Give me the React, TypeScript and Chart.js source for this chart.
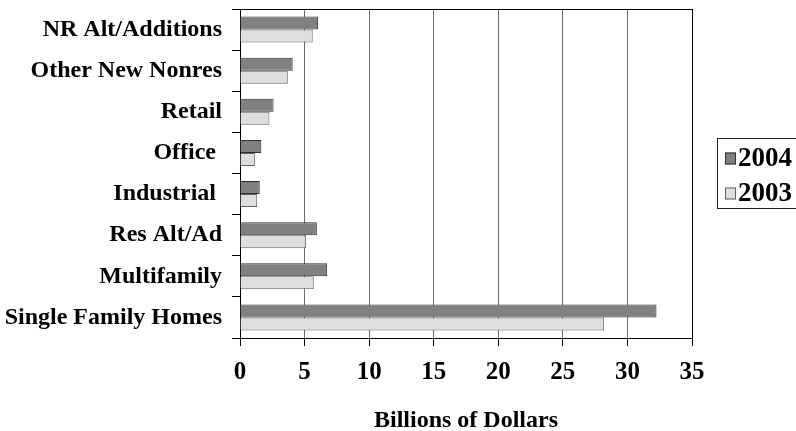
import React, { useEffect, useRef } from "react";
import { Chart, registerables } from "chart.js";

Chart.register(...registerables);

const categories = [
  "NR Alt/Additions",
  "Other New Nonres",
  "Retail",
  "Office ",
  "Industrial ",
  "Res Alt/Ad",
  "Multifamily",
  "Single Family Homes",
];
const series2004 = [6.05, 4.08, 2.6, 1.65, 1.53, 5.95, 6.75, 32.25];
const series2003 = [5.63, 3.7, 2.28, 1.15, 1.33, 5.12, 5.71, 28.2];
const seriesNames = ["2004", "2003"];
const xTicks = [0, 5, 10, 15, 20, 25, 30, 35];
const axisTitle = "Billions of Dollars";

const FONT = "'Liberation Serif', 'Times New Roman', serif";
const FILL = ["#808080", "#dedede"];
const EDGE = ["#303030", "#606060"];

const frameAndLegend = {
  id: "frameAndLegend",
  afterDatasetsDraw(chart: any) {
    const { ctx, chartArea } = chart;
    ctx.save();
    ctx.strokeStyle = "#000";
    ctx.lineWidth = 1;
    ctx.beginPath();
    ctx.moveTo(chartArea.left, Math.round(chartArea.top) + 0.5);
    ctx.lineTo(chartArea.right + 0.5, Math.round(chartArea.top) + 0.5);
    ctx.moveTo(Math.round(chartArea.right) + 0.5, chartArea.top);
    ctx.lineTo(Math.round(chartArea.right) + 0.5, chartArea.bottom);
    ctx.stroke();
    ctx.restore();
  },
  afterDraw(chart: any) {
    const { ctx } = chart;
    ctx.save();
    ctx.strokeStyle = "#222";
    ctx.lineWidth = 1;
    ctx.strokeRect(717.5, 138.5, 120, 70);
    const rows = [158.5, 193.5];
    chart.data.datasets.forEach((ds: any, i: number) => {
      const cy = rows[i];
      ctx.fillStyle = ds.backgroundColor;
      ctx.fillRect(725, cy - 6, 11, 12);
      ctx.strokeStyle = ds.borderColor;
      ctx.strokeRect(725.5, cy - 5.5, 10, 11);
      ctx.fillStyle = "#000";
      ctx.font = `bold 27px ${FONT}`;
      ctx.textAlign = "left";
      ctx.textBaseline = "middle";
      ctx.fillText(ds.label, 738, cy + 1);
    });
    ctx.restore();
  },
};

export default function App() {
  const ref = useRef<HTMLCanvasElement | null>(null);
  useEffect(() => {
    if (!ref.current) return;
    const chart = new Chart(ref.current, {
      type: "bar",
      data: {
        labels: categories,
        datasets: [
          {
            label: seriesNames[0],
            data: series2004,
            backgroundColor: FILL[0],
            borderColor: EDGE[0],
            borderWidth: 1,
          },
          {
            label: seriesNames[1],
            data: series2003,
            backgroundColor: FILL[1],
            borderColor: EDGE[1],
            borderWidth: 1,
          },
        ],
      },
      options: {
        indexAxis: "y",
        animation: false,
        responsive: false,
        maintainAspectRatio: false,
        categoryPercentage: 0.63,
        barPercentage: 1,
        layout: { padding: { top: 9, right: 104, left: 0, bottom: 0 } },
        plugins: {
          legend: { display: false },
          tooltip: { enabled: false },
        },
        scales: {
          x: {
            type: "linear",
            min: 0,
            max: 35,
            afterBuildTicks: (scale: any) => {
              scale.ticks = xTicks.map((v) => ({ value: v }));
            },
            afterFit: (scale: any) => {
              scale.height = 93;
              scale.paddingLeft = 0;
              scale.paddingRight = 0;
            },
            grid: {
              color: "#6a6a6a",
              tickColor: "#000",
              tickLength: 8,
              lineWidth: 1,
            },
            border: { color: "#000", width: 1 },
            ticks: {
              color: "#000",
              padding: 12,
              font: { family: FONT, size: 25, weight: "bold" },
            },
            title: {
              display: true,
              text: axisTitle,
              color: "#000",
              padding: { top: 0, bottom: 0 },
              font: { family: FONT, size: 24, weight: "bold", lineHeight: 0.84 },
            },
          },
          y: {
            type: "category",
            afterFit: (scale: any) => {
              scale.width = 240;
              scale.paddingTop = 0;
              scale.paddingBottom = 0;
            },
            grid: {
              offset: true,
              drawOnChartArea: false,
              tickColor: "#000",
              tickLength: 8,
            },
            border: { color: "#000", width: 1 },
            ticks: {
              color: "#000",
              padding: 10,
              autoSkip: false,
              font: { family: FONT, size: 24, weight: "bold" },
            },
          },
        },
      },
      plugins: [frameAndLegend],
    } as any);
    return () => chart.destroy();
  }, []);
  return (
    <div style={{ position: "fixed", left: 0, top: 0, width: 796, height: 431, background: "#fff" }}>
      <canvas ref={ref} width={796} height={431} style={{ width: 796, height: 431 }} />
    </div>
  );
}
